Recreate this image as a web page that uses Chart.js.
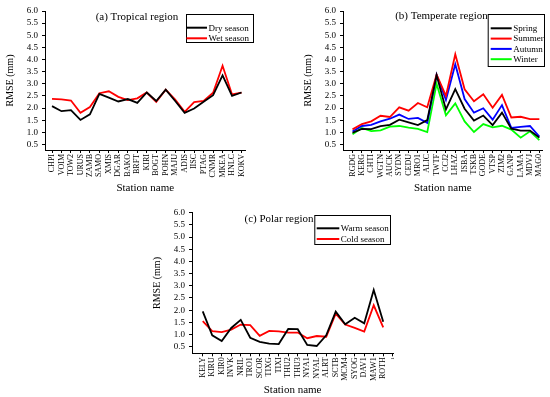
<!DOCTYPE html>
<html>
<head>
<meta charset="utf-8">
<script src="https://cdn.jsdelivr.net/npm/chart.js@4/dist/chart.umd.min.js"></script>
<style>
  body { margin: 0; background: #fff; }
  #page { position: relative; width: 550px; height: 397px; overflow: hidden; }
  canvas { position: absolute; }
</style>
</head>
<body>
<div id="page">
  <canvas id="tropical" width="275" height="200" style="left:0;top:0"></canvas>
  <canvas id="temperate" width="275" height="200" style="left:275px;top:0"></canvas>
  <canvas id="polar" width="300" height="202" style="left:120px;top:195px"></canvas>
</div>
<script>
const yTicks = [0.5, 1.0, 1.5, 2.0, 2.5, 3.0, 3.5, 4.0, 4.5, 5.0, 5.5, 6.0];

const tropicalStations = ["CHPI", "VOIM", "TOW2", "URUS", "ZAMB", "SAMO", "XMIS", "DGAR", "BAKO", "BRFT", "KIRI",
  "BOGT", "POHN", "MAJU", "ADIS", "IISC", "PTAG", "CNMR", "MKEA", "HNLC", "KOKV"];
const drySeason = [2.08, 1.87, 1.91, 1.51, 1.74, 2.58, 2.43, 2.27, 2.37, 2.21, 2.64,
  2.29, 2.76, 2.29, 1.80, 1.98, 2.26, 2.53, 3.35, 2.50, 2.64];
const wetSeason = [2.38, 2.36, 2.31, 1.80, 2.04, 2.61, 2.69, 2.46, 2.33, 2.40, 2.64,
  2.25, 2.76, 2.35, 1.84, 2.24, 2.29, 2.63, 3.74, 2.56, 2.64];

const temperateStations = ["RGDG", "KERG", "CHTI", "WGTN", "AUCK", "SYDN", "CEDU", "MRO1", "ALIC", "TWTF", "CCJ2",
  "LHAZ", "ISBA", "TSKB", "GODE", "VTSP", "ZIM2", "GANP", "LAMA", "MDVJ", "MAG0"];
const spring = [0.98, 1.14, 1.13, 1.25, 1.31, 1.52, 1.41, 1.30, 1.50, 3.35, 1.94,
  2.78, 1.97, 1.48, 1.69, 1.30, 1.81, 1.15, 1.07, 1.07, 0.78];
const summer = [1.12, 1.34, 1.45, 1.68, 1.63, 2.03, 1.89, 2.21, 2.03, 3.38, 2.50,
  4.22, 2.77, 2.28, 2.57, 2.01, 2.54, 1.61, 1.64, 1.54, 1.54];
const autumn = [1.03, 1.26, 1.31, 1.45, 1.56, 1.73, 1.55, 1.59, 1.39, 3.38, 2.33,
  3.80, 2.37, 1.81, 1.99, 1.52, 2.12, 1.18, 1.22, 1.26, 0.82];
const winter = [0.92, 1.18, 1.05, 1.08, 1.23, 1.26, 1.19, 1.14, 1.01, 3.00, 1.70,
  2.19, 1.45, 1.01, 1.34, 1.20, 1.27, 1.11, 0.78, 1.04, 0.68];

const polarStations = ["KELY", "KIRU", "KIR0", "INVK", "NRIL", "TRO1", "SCOR", "TIXG", "TIXI", "THU2",
  "THU3", "NYA1", "NYAL", "ALRT", "SCTB", "MCM4", "SYOG", "DAV1", "MAW1", "ROTH"];
const warmSeason = [1.95, 0.97, 0.73, 1.27, 1.60, 0.87, 0.70, 0.63, 0.61, 1.23,
  1.22, 0.57, 0.53, 0.97, 1.94, 1.42, 1.69, 1.46, 2.83, 1.52];
const coldSeason = [1.55, 1.14, 1.10, 1.20, 1.41, 1.39, 0.95, 1.15, 1.13, 1.08,
  1.08, 0.85, 0.94, 0.91, 1.86, 1.41, 1.27, 1.12, 2.20, 1.29];

const serif = '"Liberation Serif", "Times New Roman", serif';

// panel caption + boxed legend, drawn over the plot
const panelDeco = {
  id: "panelDeco",
  afterDraw(chart, args, o) {
    const ctx = chart.ctx;
    const b = o.box;
    ctx.save();
    ctx.fillStyle = "#000";
    ctx.font = "11px " + serif;
    ctx.textAlign = "center";
    ctx.textBaseline = "middle";
    ctx.fillText(o.title, o.titleX, o.titleY);

    ctx.fillStyle = "#fff";
    ctx.fillRect(b.x, b.y, b.w, b.h);
    ctx.strokeStyle = "#000";
    ctx.lineWidth = 1;
    ctx.strokeRect(b.x + 0.5, b.y + 0.5, b.w, b.h);

    ctx.font = "9px " + serif;
    ctx.textAlign = "left";
    chart.data.datasets.forEach((ds, i) => {
      const y = b.row0 + i * b.rowGap;
      ctx.strokeStyle = ds.borderColor;
      ctx.lineWidth = 2;
      ctx.beginPath();
      ctx.moveTo(b.line0, y);
      ctx.lineTo(b.line1, y);
      ctx.stroke();
      ctx.fillStyle = "#000";
      ctx.fillText(ds.label, b.line1 + 1.5, y + 0.5);
    });
    ctx.restore();
  }
};

function makeChart(id, stations, series, p) {
  const xTicks = stations.map((s, i) => i);
  if (p.extraTick) xTicks.push(stations.length);

  const config = {
    type: "line",
    data: {
      datasets: series.map((s) => ({
        label: s.label,
        borderColor: s.color,
        backgroundColor: s.color,
        data: s.values.map((v, i) => ({ x: i, y: v })),
        borderWidth: 1.8,
        pointRadius: 0,
        tension: 0
      }))
    },
    options: {
      responsive: false,
      animation: false,
      devicePixelRatio: 1,
      layout: { padding: p.padding },
      plugins: {
        legend: { display: false },
        tooltip: { enabled: false },
        panelDeco: p.deco
      },
      scales: {
        x: {
          type: "linear",
          min: p.xMin,
          max: p.xMax,
          afterBuildTicks: (s) => { s.ticks = xTicks.map((v) => ({ value: v })); },
          afterFit: (s) => { s.height = p.xHeight; },
          ticks: {
            autoSkip: false,
            minRotation: 90,
            maxRotation: 90,
            padding: 1,
            color: "#000",
            font: (c) => ({ family: serif, size: c.tick && c.tick.value >= stations.length ? 5 : 8 }),
            callback: (v) => (v < stations.length ? stations[v] : "1")
          },
          grid: { drawOnChartArea: false, tickLength: 3, color: "#000" },
          border: { color: "#000", width: 1 },
          title: { display: true, text: "Station name", color: "#000", font: { family: serif, size: 11 }, padding: 0 }
        },
        y: {
          min: p.yMin,
          max: 6,
          afterBuildTicks: (s) => { s.ticks = yTicks.map((v) => ({ value: v })); },
          afterFit: (s) => { s.width = 45; },
          ticks: {
            autoSkip: false,
            padding: 4,
            color: "#000",
            font: { family: serif, size: 9 },
            callback: (v) => v.toFixed(1)
          },
          grid: { drawOnChartArea: false, tickLength: 3, color: "#000" },
          border: { color: "#000", width: 1 },
          title: { display: true, text: "RMSE (mm)", color: "#000", font: { family: serif, size: 10 }, padding: { top: 4, bottom: 0 } }
        }
      }
    },
    plugins: [panelDeco]
  };

  return new Chart(document.getElementById(id), config);
}

makeChart("tropical", tropicalStations, [
  { label: "Dry season", color: "#000000", values: drySeason },
  { label: "Wet season", color: "#ff0000", values: wetSeason }
], {
  padding: { left: 0, top: 11, right: 29.5, bottom: 5.4 },
  xMin: -0.74, xMax: 20.42, xHeight: 44.6, yMin: 0.27,
  deco: {
    title: "(a) Tropical region", titleX: 137, titleY: 17,
    box: { x: 186, y: 14, w: 67, h: 28, row0: 27.7, rowGap: 10.6, line0: 186.5, line1: 207 }
  }
});

makeChart("temperate", temperateStations, [
  { label: "Spring", color: "#000000", values: spring },
  { label: "Summer", color: "#ff0000", values: summer },
  { label: "Autumn", color: "#0000ff", values: autumn },
  { label: "Winter", color: "#00ff00", values: winter }
], {
  padding: { left: 23, top: 11, right: 3.5, bottom: 5.4 },
  xMin: -1.02, xMax: 20.34, xHeight: 44.6, yMin: 0.27,
  deco: {
    title: "(b) Temperate region", titleX: 166.5, titleY: 16,
    box: { x: 212.7, y: 14, w: 56.3, h: 52, row0: 28.3, rowGap: 10.3, line0: 215.7, line1: 236.7 }
  }
});

makeChart("polar", polarStations, [
  { label: "Warm season", color: "#000000", values: warmSeason },
  { label: "Cold season", color: "#ff0000", values: coldSeason }
], {
  padding: { left: 27, top: 17.7, right: 26.8, bottom: 0.4 },
  xMin: -1.13, xMax: 20.05, xHeight: 43.3, yMin: 0.23, extraTick: true,
  deco: {
    title: "(c) Polar region", titleX: 159, titleY: 24,
    box: { x: 194.3, y: 20, w: 75.7, h: 29, row0: 33.3, rowGap: 10.7, line0: 196.7, line1: 219.3 }
  }
});
</script>
</body>
</html>
